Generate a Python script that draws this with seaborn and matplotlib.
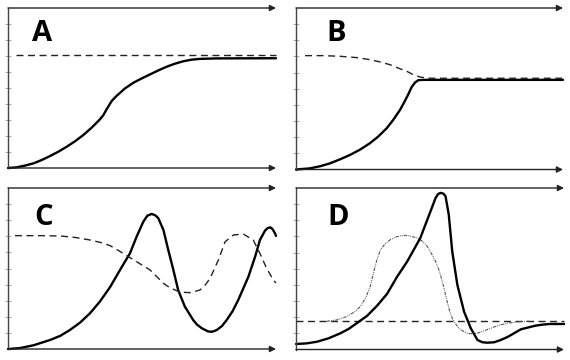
import matplotlib
matplotlib.use("Agg")
import matplotlib.pyplot as plt
import seaborn as sns
import pandas as pd

sns.set_style("white")
plt.rcParams['font.family'] = ['Open Sans', 'DejaVu Sans']

# ---------------- data (x, y in panel units 0..10) ----------------
A_solid_x = [0, 0.32, 0.63, 0.95, 1.26, 1.57, 1.88, 2.19, 2.5, 2.81, 3.12, 3.43, 3.56, 3.68, 3.87,
             4.06, 4.37, 4.68, 4.99, 5.3, 5.61, 5.92, 6.23, 6.54, 6.85, 7.16, 7.79, 10]
A_solid_y = [0, 0.04, 0.15, 0.29, 0.5, 0.75, 1.02, 1.33, 1.67, 2.06, 2.52, 3.04, 3.31, 3.67, 4.19,
             4.52, 4.98, 5.33, 5.6, 5.85, 6.1, 6.33, 6.52, 6.67, 6.77, 6.82, 6.85, 6.86]
A_dash_x = [0.3, 10]
A_dash_y = [7.06, 7.06]

B_solid_x = [0, 0.52, 0.9, 1.27, 1.65, 2.02, 2.4, 2.77, 3.08, 3.4, 3.64, 3.9, 4.08, 4.21, 4.33,
             4.46, 4.58, 4.77, 10]
B_solid_y = [0, 0.07, 0.2, 0.38, 0.63, 0.9, 1.23, 1.63, 2.04, 2.56, 3.07, 3.7, 4.25, 4.67, 5.1,
             5.39, 5.53, 5.55, 5.55]
B_dash_x = [0.34, 1.02, 1.65, 2.27, 2.77, 3.15, 3.52, 3.83, 4.15, 4.39, 4.64, 4.9, 5.14, 10]
B_dash_y = [7.05, 7.05, 7.01, 6.93, 6.8, 6.66, 6.49, 6.28, 6.08, 5.87, 5.73, 5.66, 5.65, 5.65]

C_solid_x = [0, 0.45, 0.95, 1.57, 1.94, 2.31, 2.69, 3.06, 3.43, 3.81, 4.18, 4.55, 4.8, 5.05, 5.2,
             5.36, 5.5, 5.61, 5.8, 5.98, 6.17, 6.35, 6.6, 6.91, 7.05, 7.23, 7.47, 7.62, 7.79, 7.98,
             8.16, 8.38, 8.59, 8.97, 9.22, 9.4, 9.59, 9.68, 9.78, 9.87, 9.96, 10]
C_solid_y = [0, 0.06, 0.23, 0.56, 0.81, 1.18, 1.64, 2.22, 2.95, 3.85, 4.91, 5.94, 6.98, 7.91, 8.28,
             8.39, 8.3, 8.12, 7.39, 6.15, 4.91, 3.66, 2.63, 1.8, 1.52, 1.29, 1.09, 1.07, 1.18, 1.42,
             1.8, 2.35, 3.04, 4.49, 5.73, 6.77, 7.35, 7.5, 7.56, 7.45, 7.19, 7.02]
C_dash_x = [0.26, 1.2, 1.94, 2.5, 3.06, 3.45, 3.81, 4.3, 4.8, 5.3, 5.8, 6.0, 6.29, 6.55, 6.79,
            7.16, 7.35, 7.54, 7.85, 8.1, 8.41, 8.78, 9.15, 9.4, 9.65, 9.9, 10]
C_dash_y = [7.04, 7.04, 7.02, 6.93, 6.77, 6.62, 6.42, 5.94, 5.42, 4.91, 4.08, 3.85, 3.62, 3.52,
            3.5, 3.66, 3.95, 4.39, 5.53, 6.66, 7.08, 7.14, 6.77, 5.94, 5.01, 4.29, 4.1]

D_solid_x = [0, 0.4, 0.78, 1.21, 1.65, 1.96, 2.27, 2.65, 3.02, 3.4, 3.77, 4.15, 4.64, 5.02, 5.21,
             5.3, 5.39, 5.5, 5.58, 5.7, 5.83, 6.02, 6.27, 6.52, 6.77, 6.95, 7.14, 7.4, 7.64, 7.9,
             8.14, 8.39, 8.7, 8.95, 9.2, 9.45, 10]
D_solid_y = [0.34, 0.38, 0.48, 0.69, 1.0, 1.27, 1.63, 2.08, 2.7, 3.45, 4.5, 5.45, 6.91, 8.56, 9.39,
             9.62, 9.7, 9.65, 9.49, 8.35, 6.07, 4.01, 2.35, 1.32, 0.59, 0.45, 0.42, 0.45, 0.59, 0.78,
             1.01, 1.25, 1.38, 1.48, 1.54, 1.58, 1.58]
D_dash_x = [0, 10]
D_dash_y = [1.75, 1.75]
D_dot_x = [1.15, 1.5, 1.9, 2.2, 2.4, 2.6, 2.77, 2.9, 3.02, 3.15, 3.33, 3.52, 3.75, 4.02, 4.25,
           4.52, 4.72, 4.9, 5.05, 5.21, 5.35, 5.46, 5.55, 5.64, 5.73, 5.83, 5.95, 6.08, 6.22,
           6.39, 6.58, 6.77, 7.0, 7.27, 7.57, 7.89, 8.39, 8.7]
D_dot_y = [1.75, 1.82, 2.04, 2.35, 2.66, 3.2, 3.9, 4.8, 5.56, 6.18, 6.55, 6.8, 6.98, 7.07, 7.03,
           6.91, 6.7, 6.39, 5.95, 5.45, 4.85, 4.21, 3.6, 2.97, 2.4, 1.94, 1.6, 1.32, 1.15,
           1.01, 0.97, 1.01, 1.15, 1.32, 1.5, 1.63, 1.73, 1.75]

labels = ["A", "B", "C", "D"]
label_pos = [(1.27, 8.4), (1.52, 8.4), (1.32, 8.15), (1.59, 8.2)]

# ---------------- layout (pixel boxes: left, top, right, bottom) ----------------
W, H = 570, 360
boxes = [(8, 8, 276, 168), (296, 8, 563, 169.5), (8, 188, 276, 349), (296, 188, 564, 349.5)]

fig = plt.figure(figsize=(W / 100, H / 100), dpi=100)

panels = [
    [(A_solid_x, A_solid_y, 'solid'), (A_dash_x, A_dash_y, 'dash')],
    [(B_solid_x, B_solid_y, 'solid'), (B_dash_x, B_dash_y, 'dash')],
    [(C_solid_x, C_solid_y, 'solid'), (C_dash_x, C_dash_y, 'dash')],
    [(D_dash_x, D_dash_y, 'dash'), (D_dot_x, D_dot_y, 'dot'), (D_solid_x, D_solid_y, 'solid')],
]

for i, (box, series) in enumerate(zip(boxes, panels)):
    l, t, r, b = box
    ax = fig.add_axes([l / W, 1 - b / H, (r - l) / W, (b - t) / H])
    for xs, ys, kind in series:
        df = pd.DataFrame({"x": xs, "y": ys})
        if kind == 'solid':
            sns.lineplot(data=df, x="x", y="y", ax=ax, sort=False, estimator=None,
                         color="black", lw=1.7, clip_on=False)
            ax.lines[-1].set_solid_joinstyle('round')
        elif kind == 'dash':
            sns.lineplot(data=df, x="x", y="y", ax=ax, sort=False, estimator=None,
                         color="#222222", lw=1.0, clip_on=False)
            ax.lines[-1].set_dashes((5, 3.3))
        else:
            sns.lineplot(data=df, x="x", y="y", ax=ax, sort=False, estimator=None,
                         color="#555555", lw=0.8, clip_on=False)
            ax.lines[-1].set_dashes((3, 1, 0.8, 1, 0.8, 1))
    ax.set_xlim(0, 10)
    ax.set_ylim(0, 10)
    ax.set_xlabel("")
    ax.set_ylabel("")
    ax.set_xticks([])
    ax.set_yticks(range(1, 10))
    ax.set_yticklabels([])
    ax.tick_params(axis='y', direction='inout', length=4, width=0.8, color='#aaaaaa', left=True)
    for s in ['top', 'right', 'bottom']:
        ax.spines[s].set_visible(False)
    ax.spines['left'].set_color('#444444')
    ax.spines['left'].set_linewidth(1.0)
    for yy in (0, 1):
        ax.annotate('', xy=(1, yy), xytext=(0, yy), xycoords='axes fraction',
                    textcoords='axes fraction',
                    arrowprops=dict(arrowstyle='-|>', color='#222222', lw=1.0,
                                    mutation_scale=9, shrinkA=0, shrinkB=0))
    lx, ly = label_pos[i]
    ax.text(lx, ly, labels[i], fontsize=21, fontweight='bold', ha='center', va='center',
            color='black')

fig.savefig("out.png", dpi=100)
